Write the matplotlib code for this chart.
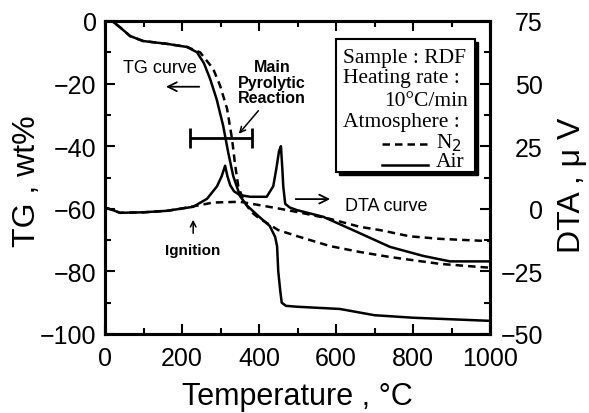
import matplotlib
matplotlib.use("Agg")
import matplotlib.pyplot as plt
from matplotlib.patches import Rectangle
from matplotlib.lines import Line2D
from matplotlib.ticker import MultipleLocator

plt.rcParams['font.family'] = ['Liberation Sans', 'DejaVu Sans']

# TG curves (wt%)
tg_air_T = [0, 18, 39, 65, 99, 161, 213, 239, 257, 273, 290, 307, 320, 333, 351, 369,
            400, 428, 442, 447, 450, 455, 459, 470, 500, 610, 700, 800, 900, 1000]
tg_air = [0, 0, -2, -4.8, -6.4, -7.3, -8.3, -10, -13.5, -18.5, -25, -33.5, -42, -49.5, -56, -59,
          -62.5, -65.5, -69, -72, -80, -86, -90, -91, -91.3, -92, -94, -94.8, -95.3, -95.8]

tg_n2_T = [0, 18, 39, 65, 99, 161, 213, 247, 281, 299, 317, 330, 338, 346, 360, 380,
           400, 420, 450, 498, 584, 662, 740, 870, 974, 1000]
tg_n2 = [0, 0, -2, -4.8, -6.4, -7.3, -8.3, -10, -15.3, -20.7, -28, -37.7, -46, -52.7, -57.5, -61,
         -63, -64.5, -66.8, -68.7, -71.9, -73.8, -75.4, -77.6, -78.6, -78.8]

# DTA curves (uV)
dta_air_T = [0, 20, 39, 100, 161, 229, 265, 291, 303, 312, 318, 325, 335, 350, 377, 420,
             437, 445, 452, 457, 461, 463, 468, 480, 498, 567, 654, 740, 826, 896, 1000]
dta_air = [0.5, -0.5, -1.6, -1.4, -0.8, 0.8, 4, 9, 13, 17.2, 13, 9.5, 7, 5.5, 4.8, 4.8,
           9, 16, 23, 25, 15, 9, 2, 0.5, -0.5, -3.2, -9.2, -15.2, -18.8, -21, -21]

dta_n2_T = [0, 20, 39, 100, 161, 195, 230, 281, 351, 400, 455, 500, 584, 662, 714, 792, 870, 982, 1000]
dta_n2 = [0.5, -0.5, -1.6, -1.4, -0.8, 0, 1, 2.5, 2.8, 1.5, 0, -1.3, -4, -7.2, -8.5, -11, -12, -12.8, -12.8]

W, H = 589, 414
fig = plt.figure(figsize=(W / 100, H / 100), dpi=100)
ax = fig.add_axes([105 / W, 1 - 335 / H, 385 / W, 313 / H])
ax2 = ax.twinx()

def px(x, y):
    return x / W, 1 - y / H

lw = 1.8
ax.plot(tg_air_T, tg_air, color='black', lw=lw)
ax.plot(tg_n2_T, tg_n2, color='black', lw=lw, ls=(0, (3, 2)))
ax2.plot(dta_air_T, dta_air, color='black', lw=lw)
ax2.plot(dta_n2_T, dta_n2, color='black', lw=lw, ls=(0, (3, 2)))

ax.set_xlim(0, 1000)
ax.set_ylim(-100, 0)
ax2.set_ylim(-50, 75)

ax.xaxis.set_major_locator(MultipleLocator(200))
ax.xaxis.set_minor_locator(MultipleLocator(100))
ax.yaxis.set_major_locator(MultipleLocator(20))
ax.yaxis.set_minor_locator(MultipleLocator(10))
ax2.yaxis.set_major_locator(MultipleLocator(25))
ax2.yaxis.set_minor_locator(MultipleLocator(12.5))

ax.tick_params(which='both', direction='in', top=True, width=1.5, labelsize=18)
ax.tick_params(which='major', length=7)
ax.tick_params(which='minor', length=4)
ax.tick_params(axis='y', pad=6)
ax.tick_params(axis='x', pad=9)
ax2.tick_params(which='both', direction='in', width=1.5, labelsize=18)
ax2.tick_params(which='major', length=7, pad=38)
ax2.tick_params(which='minor', length=4)
for s in list(ax.spines.values()) + list(ax2.spines.values()):
    s.set_linewidth(2.2)

ax.set_yticks([-100, -80, -60, -40, -20, 0])
ax.set_yticklabels(['\u2212100', '\u221280', '\u221260', '\u221240', '\u221220', '0'])
ax2.set_yticks([-50, -25, 0, 25, 50, 75])
ax2.set_yticklabels(['\u221250', '\u221225', '0', '25', '50', '75'])
for lbl in ax2.get_yticklabels():
    lbl.set_horizontalalignment('right')

ax.set_xlabel('Temperature , \u00b0C', fontsize=22)
ax.xaxis.set_label_coords(0.5, -0.198)
ax.xaxis.label.set_va('center')
ax.set_ylabel('TG , wt%', fontsize=23)
ax.yaxis.set_label_coords(-0.203, 0.492)
ax.yaxis.label.set_va('center')
ax2.set_ylabel('DTA , \u03bc V', fontsize=23)
ax2.yaxis.set_label_coords(1.213, 0.479)
ax2.yaxis.label.set_va('center')

# annotations
arrow = dict(arrowstyle='->', color='black', lw=1.3, mutation_scale=16)
ax.text(143, -14.7, 'TG curve', fontsize=13, ha='center', va='center')
ax.annotate('', xy=(151, -21), xytext=(252, -21), arrowprops=arrow)
ax.text(434, -19.5, 'Main\nPyrolytic\nReaction', fontsize=11.5, fontweight='bold',
        ha='center', va='center', linespacing=1.05)
ax.annotate('', xy=(343, -36.7), xytext=(403, -28), arrowprops=dict(arrowstyle='->', color='black', lw=1.1))
ax.errorbar([301.5], [-37.4], xerr=[80.5], color='black', lw=2, capsize=7, capthick=2)
ax.text(229, -73.2, 'Ignition', fontsize=11, fontweight='bold', ha='center', va='center')
ax.annotate('', xy=(229, -62.6), xytext=(229, -68.7), arrowprops=dict(arrowstyle='->', color='black', lw=1.1))
ax.annotate('', xy=(592, -56.9), xytext=(488, -56.9), arrowprops=arrow)
ax.text(623, -58.8, 'DTA curve', fontsize=13, ha='left', va='center')

# condition box with shadow
x0, y0 = px(336, 173)
bw, bh = 139 / W, 133 / H
fig.patches.append(Rectangle((x0 + 3 / W, y0 - 3 / H), bw, bh, transform=fig.transFigure,
                             facecolor='black', edgecolor='black', zorder=5))
fig.patches.append(Rectangle((x0, y0), bw, bh, transform=fig.transFigure,
                             facecolor='white', edgecolor='black', lw=1.5, zorder=6))
serif = dict(family=['Liberation Serif', 'DejaVu Serif'], fontsize=15.5, zorder=7, va='center')
fig.text(*px(343, 58), 'Sample : RDF', ha='left', **serif)
fig.text(*px(343, 79), 'Heating rate :', ha='left', **serif)
fig.text(*px(468, 101), '10\u00b0C/min', ha='right', **serif)
fig.text(*px(343, 122), 'Atmosphere :', ha='left', **serif)
fig.text(*px(436, 143), 'N$_2$', ha='left', **serif)
fig.text(*px(436, 163), 'Air', ha='left', **serif)
fig.lines.append(Line2D([382 / W, 428 / W], [1 - 145 / H] * 2, transform=fig.transFigure,
                        color='black', lw=1.8, ls=(0, (3, 2)), zorder=7))
fig.lines.append(Line2D([382 / W, 428 / W], [1 - 166 / H] * 2, transform=fig.transFigure,
                        color='black', lw=1.8, zorder=7))

fig.savefig('out.png', dpi=100)
